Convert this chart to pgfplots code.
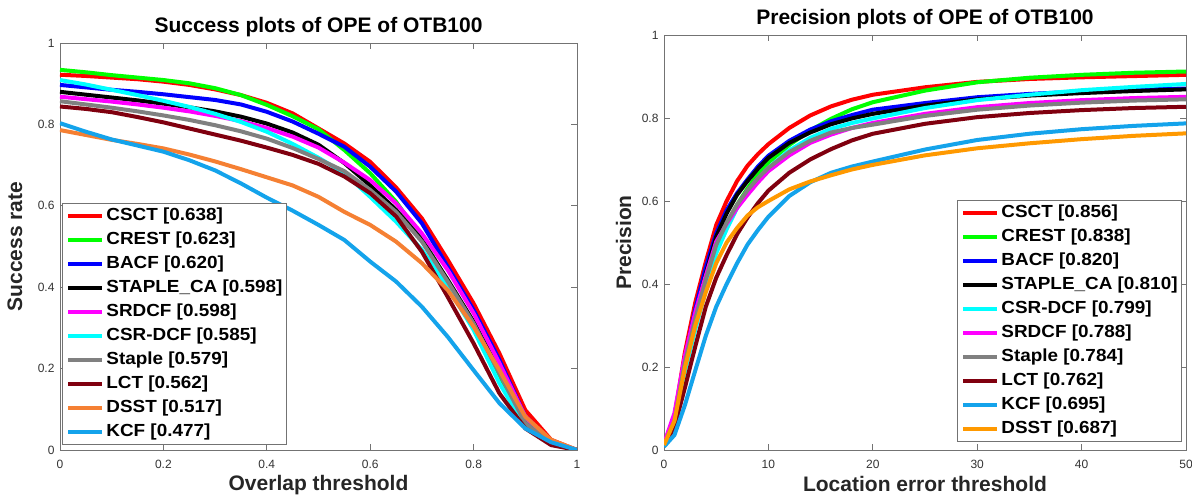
\documentclass[border=0pt]{standalone}
\usepackage{fontspec}
\setmainfont{Liberation Sans}
\newfontfamily\legfont{Liberation Sans}[FakeStretch=1.08]
\usepackage{pgfplots}
\usepackage{pgfplotstable}
\pgfplotsset{compat=1.18}

\definecolor{cCSCT}{rgb}{1,0,0}
\definecolor{cCREST}{rgb}{0,1,0}
\definecolor{cBACF}{rgb}{0,0,1}
\definecolor{cSTAPLECA}{rgb}{0,0,0}
\definecolor{cSRDCF}{rgb}{1,0,1}
\definecolor{cCSRDCF}{rgb}{0,1,1}
\definecolor{cStaple}{rgb}{0.5,0.5,0.5}
\definecolor{cLCT}{rgb}{0.5,0,0.06}
\definecolor{cDSSTa}{rgb}{0.96,0.5,0.2}
\definecolor{cDSSTb}{rgb}{1,0.6,0}
\definecolor{cKCF}{rgb}{0.08,0.64,0.92}
\definecolor{axgray}{rgb}{0.45,0.45,0.45}
\definecolor{tkgray}{rgb}{0.2,0.2,0.2}

\pgfplotstableread{
x    csct  crest bacf  stca  srdcf csr   staple lct   dsst  kcf
0    0.922 0.934 0.897 0.880 0.868 0.909 0.857 0.844 0.786 0.803
0.05 0.919 0.928 0.891 0.873 0.862 0.898 0.849 0.838 0.774 0.782
0.10 0.915 0.921 0.885 0.866 0.856 0.885 0.841 0.830 0.762 0.763
0.15 0.911 0.915 0.880 0.859 0.849 0.872 0.832 0.818 0.752 0.748
0.20 0.905 0.909 0.874 0.851 0.841 0.858 0.822 0.805 0.741 0.733
0.25 0.897 0.901 0.867 0.842 0.832 0.843 0.811 0.790 0.726 0.712
0.30 0.886 0.889 0.860 0.832 0.821 0.826 0.798 0.775 0.709 0.687
0.35 0.872 0.872 0.849 0.819 0.808 0.806 0.783 0.760 0.690 0.655
0.40 0.853 0.848 0.831 0.802 0.791 0.782 0.765 0.743 0.670 0.620
0.45 0.827 0.820 0.807 0.780 0.770 0.752 0.742 0.725 0.650 0.588
0.50 0.790 0.788 0.777 0.750 0.743 0.718 0.715 0.703 0.622 0.553
0.55 0.753 0.737 0.745 0.705 0.706 0.680 0.685 0.672 0.585 0.516
0.60 0.708 0.680 0.696 0.650 0.663 0.622 0.639 0.631 0.553 0.463
0.65 0.645 0.610 0.635 0.590 0.606 0.561 0.585 0.574 0.512 0.414
0.70 0.569 0.520 0.557 0.516 0.532 0.492 0.512 0.487 0.459 0.352
0.75 0.467 0.415 0.450 0.418 0.442 0.401 0.414 0.376 0.393 0.278
0.80 0.360 0.300 0.344 0.315 0.336 0.295 0.311 0.262 0.303 0.196
0.85 0.237 0.175 0.221 0.195 0.213 0.164 0.188 0.139 0.196 0.115
0.90 0.098 0.060 0.082 0.065 0.082 0.057 0.066 0.053 0.082 0.053
0.95 0.025 0.020 0.020 0.018 0.020 0.018 0.018 0.012 0.025 0.019
1.00 0     0     0     0     0     0     0     0     0     0
}\succtab

\pgfplotstableread{
x  csct  crest bacf  stca  csr   srdcf staple lct   kcf   dsst
0  0.015 0.012 0.012 0.012 0.012 0.015 0.012 0.010 0.008 0.012
1  0.080 0.065 0.072 0.070 0.062 0.089 0.070 0.055 0.036 0.070
2  0.235 0.194 0.219 0.212 0.190 0.227 0.211 0.150 0.108 0.198
3  0.356 0.300 0.340 0.324 0.291 0.332 0.316 0.250 0.192 0.300
4  0.453 0.400 0.440 0.425 0.385 0.420 0.410 0.345 0.275 0.380
5  0.542 0.486 0.522 0.514 0.474 0.502 0.494 0.415 0.345 0.450
6  0.600 0.545 0.578 0.570 0.532 0.545 0.548 0.470 0.400 0.500
7  0.648 0.591 0.619 0.615 0.583 0.583 0.591 0.520 0.450 0.535
8  0.685 0.630 0.652 0.648 0.622 0.615 0.626 0.560 0.495 0.565
9  0.713 0.665 0.683 0.678 0.654 0.645 0.655 0.595 0.530 0.585
10 0.737 0.693 0.709 0.704 0.680 0.672 0.680 0.625 0.562 0.600
12 0.776 0.735 0.745 0.740 0.722 0.710 0.718 0.668 0.612 0.628
14 0.806 0.770 0.772 0.765 0.752 0.740 0.745 0.700 0.645 0.647
16 0.828 0.798 0.792 0.785 0.774 0.760 0.765 0.725 0.668 0.662
18 0.844 0.821 0.807 0.799 0.788 0.776 0.776 0.746 0.683 0.676
20 0.856 0.838 0.820 0.810 0.799 0.788 0.784 0.762 0.695 0.687
25 0.874 0.866 0.836 0.830 0.824 0.810 0.805 0.786 0.724 0.710
30 0.887 0.886 0.850 0.845 0.843 0.826 0.820 0.802 0.747 0.727
35 0.894 0.897 0.858 0.854 0.856 0.836 0.830 0.812 0.762 0.739
40 0.898 0.904 0.864 0.860 0.867 0.843 0.837 0.819 0.773 0.749
45 0.901 0.909 0.868 0.865 0.875 0.848 0.842 0.824 0.781 0.757
50 0.904 0.912 0.871 0.869 0.882 0.851 0.845 0.827 0.787 0.763
}\prectab

\pgfplotsset{
  myaxis/.style={
    scale only axis,
    every axis title shift=0pt,
    axis line style={draw=axgray, line width=0.8pt},
    tick style={draw=axgray, line width=0.8pt},
    major tick length=6pt,
    tick align=inside,
    tick label style={font=\fontsize{12}{14}\selectfont, text=tkgray},
    xticklabel style={yshift=-7pt},
    yticklabel style={xshift=-2pt},
    /pgf/number format/assume math mode=true,
    title style={font=\fontsize{21}{24}\selectfont\bfseries, anchor=base},
    label style={font=\fontsize{21}{24}\selectfont\bfseries, text=black!85},
    legend cell align=left,
    legend image code/.code={\draw[##1, line width=4pt] (0pt,0pt) -- (34pt,0pt);},
    every axis plot/.append style={line width=4pt, line join=round, no markers},
    legend style={draw=axgray, line width=0.8pt, fill=white,
      font=\legfont\fontsize{17.5}{20}\selectfont\bfseries,
      inner xsep=4pt, inner ysep=4pt, row sep=7pt, column sep=2pt,
      nodes={inner sep=0pt, text height=13pt, text depth=4pt}},
  }
}

\begin{document}
\begin{tikzpicture}
\begin{axis}[myaxis,
  at={(60pt,45pt)}, anchor=south west,
  width=517pt, height=407pt,
  xmin=0, xmax=1, ymin=0, ymax=1,
  xtick={0,0.2,0.4,0.6,0.8,1}, ytick={0,0.2,0.4,0.6,0.8,1},
  title={Success plots of OPE of OTB100},
  title style={at={(0.5,1.0246)}},
  xlabel={Overlap threshold}, ylabel={Success rate},
  xlabel style={at={(axis description cs:0.5,-0.0985)}, anchor=base},
  ylabel style={at={(axis description cs:-0.0658,0.5)}, anchor=south},
  legend style={at={(0.0039,0.0123)}, anchor=south west},
]
\addplot[color=cCSCT] table[x=x,y=csct]{\succtab}; \addlegendentry{CSCT [0.638]}
\addplot[color=cCREST] table[x=x,y=crest]{\succtab}; \addlegendentry{CREST [0.623]}
\addplot[color=cBACF] table[x=x,y=bacf]{\succtab}; \addlegendentry{BACF [0.620]}
\addplot[color=cSTAPLECA] table[x=x,y=stca]{\succtab}; \addlegendentry{STAPLE\_CA [0.598]}
\addplot[color=cSRDCF] table[x=x,y=srdcf]{\succtab}; \addlegendentry{SRDCF [0.598]}
\addplot[color=cCSRDCF] table[x=x,y=csr]{\succtab}; \addlegendentry{CSR-DCF [0.585]}
\addplot[color=cStaple] table[x=x,y=staple]{\succtab}; \addlegendentry{Staple [0.579]}
\addplot[color=cLCT] table[x=x,y=lct]{\succtab}; \addlegendentry{LCT [0.562]}
\addplot[color=cDSSTa] table[x=x,y=dsst]{\succtab}; \addlegendentry{DSST [0.517]}
\addplot[color=cKCF] table[x=x,y=kcf]{\succtab}; \addlegendentry{KCF [0.477]}
\end{axis}

\begin{axis}[myaxis,
  at={(664pt,45pt)}, anchor=south west,
  width=522pt, height=415pt,
  xmin=0, xmax=50, ymin=0, ymax=1,
  xtick={0,10,20,30,40,50}, ytick={0,0.2,0.4,0.6,0.8,1},
  title={Precision plots of OPE of OTB100},
  title style={at={(0.5,1.0241)}},
  xlabel={Location error threshold}, ylabel={Precision},
  xlabel style={at={(axis description cs:0.5,-0.1)}, anchor=base},
  ylabel style={at={(axis description cs:-0.0556,0.5)}, anchor=south},
  legend style={at={(0.9923,0.0193)}, anchor=south east},
]
\addplot[color=cCSCT] table[x=x,y=csct]{\prectab}; \addlegendentry{CSCT [0.856]}
\addplot[color=cCREST] table[x=x,y=crest]{\prectab}; \addlegendentry{CREST [0.838]}
\addplot[color=cBACF] table[x=x,y=bacf]{\prectab}; \addlegendentry{BACF [0.820]}
\addplot[color=cSTAPLECA] table[x=x,y=stca]{\prectab}; \addlegendentry{STAPLE\_CA [0.810]}
\addplot[color=cCSRDCF] table[x=x,y=csr]{\prectab}; \addlegendentry{CSR-DCF [0.799]}
\addplot[color=cSRDCF] table[x=x,y=srdcf]{\prectab}; \addlegendentry{SRDCF [0.788]}
\addplot[color=cStaple] table[x=x,y=staple]{\prectab}; \addlegendentry{Staple [0.784]}
\addplot[color=cLCT] table[x=x,y=lct]{\prectab}; \addlegendentry{LCT [0.762]}
\addplot[color=cKCF] table[x=x,y=kcf]{\prectab}; \addlegendentry{KCF [0.695]}
\addplot[color=cDSSTb] table[x=x,y=dsst]{\prectab}; \addlegendentry{DSST [0.687]}
\end{axis}
\pgfresetboundingbox
\useasboundingbox (0,0) rectangle (1192pt,495pt);
\end{tikzpicture}
\end{document}
